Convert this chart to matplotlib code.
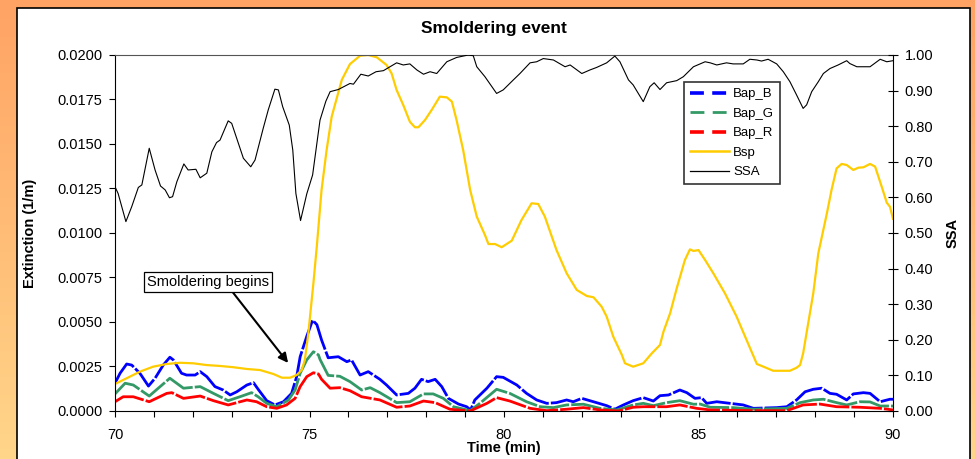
import numpy as np
import matplotlib
matplotlib.use("Agg")
import matplotlib.pyplot as plt
from matplotlib.lines import Line2D
from matplotlib.patches import Rectangle

plt.rcParams['font.family'] = ['Liberation Sans', 'DejaVu Sans']
plt.rcParams['lines.scale_dashes'] = False

# ---- data ----
ssa_t = [70.00, 70.08, 70.28, 70.43, 70.60, 70.69, 70.88, 71.03, 71.17, 71.29, 71.40, 71.48,
         71.59, 71.77, 71.88, 72.08, 72.19, 72.36, 72.49, 72.61, 72.70, 72.91, 73.00, 73.30,
         73.49, 73.60, 73.81, 73.94, 74.11, 74.20, 74.31, 74.48, 74.57, 74.65, 74.77, 74.93,
         75.08, 75.27, 75.42, 75.53, 75.74, 76.04, 76.13, 76.32, 76.51, 76.71, 76.90, 77.24,
         77.41, 77.58, 77.76, 77.93, 78.10, 78.27, 78.53, 78.78, 79.08, 79.21, 79.30, 79.51,
         79.81, 79.98, 80.24, 80.41, 80.67, 80.84, 81.01, 81.27, 81.57, 81.70, 82.00, 82.21,
         82.38, 82.64, 82.85, 82.98, 83.20, 83.32, 83.58, 83.75, 83.86, 84.01, 84.18, 84.44,
         84.61, 84.87, 85.17, 85.30, 85.47, 85.72, 85.89, 86.15, 86.32, 86.50, 86.62, 86.79,
         87.01, 87.18, 87.35, 87.52, 87.69, 87.78, 87.91, 88.08, 88.21, 88.38, 88.59, 88.81,
         88.89, 89.07, 89.41, 89.67, 89.84, 90.00]
ssa = [0.630, 0.611, 0.532, 0.574, 0.628, 0.635, 0.738, 0.677, 0.632, 0.621, 0.599, 0.602,
       0.644, 0.694, 0.677, 0.679, 0.655, 0.668, 0.728, 0.754, 0.761, 0.815, 0.808, 0.710,
       0.686, 0.705, 0.794, 0.846, 0.904, 0.902, 0.855, 0.803, 0.733, 0.611, 0.535, 0.610,
       0.663, 0.817, 0.870, 0.897, 0.903, 0.920, 0.918, 0.946, 0.941, 0.953, 0.956, 0.978,
       0.972, 0.975, 0.958, 0.946, 0.953, 0.948, 0.981, 0.993, 1.000, 0.998, 0.967, 0.939,
       0.892, 0.902, 0.930, 0.948, 0.978, 0.981, 0.990, 0.986, 0.967, 0.972, 0.948, 0.958,
       0.965, 0.978, 0.997, 0.981, 0.930, 0.916, 0.869, 0.911, 0.922, 0.903, 0.922, 0.928,
       0.939, 0.967, 0.981, 0.978, 0.972, 0.978, 0.975, 0.975, 0.988, 0.986, 0.983, 0.988,
       0.975, 0.953, 0.925, 0.888, 0.850, 0.860, 0.897, 0.925, 0.948, 0.962, 0.972, 0.984,
       0.976, 0.967, 0.967, 0.988, 0.981, 0.984]

bsp_t = [70.00, 70.30, 70.64, 70.98, 71.33, 71.67, 72.01, 72.36, 72.70, 73.04, 73.39, 73.73,
         74.07, 74.29, 74.50, 74.67, 74.80, 74.88, 74.97, 75.10, 75.19, 75.31, 75.44, 75.57,
         75.70, 75.83, 76.04, 76.30, 76.51, 76.73, 76.98, 77.11, 77.24, 77.41, 77.58, 77.71,
         77.80, 77.97, 78.14, 78.35, 78.53, 78.66, 78.78, 78.95, 79.13, 79.30, 79.51, 79.60,
         79.77, 79.94, 80.20, 80.45, 80.71, 80.88, 81.05, 81.35, 81.61, 81.87, 82.13, 82.30,
         82.51, 82.64, 82.81, 83.03, 83.11, 83.32, 83.58, 83.80, 84.01, 84.10, 84.27, 84.44,
         84.65, 84.78, 84.87, 85.00, 85.17, 85.38, 85.68, 85.98, 86.20, 86.50, 86.67, 86.92,
         87.35, 87.52, 87.61, 87.69, 87.82, 87.95, 88.08, 88.30, 88.42, 88.55, 88.68, 88.81,
         88.98, 89.11, 89.24, 89.41, 89.54, 89.71, 89.84, 89.92, 90.00]
bsp = [0.00152, 0.00184, 0.00221, 0.00249, 0.00264, 0.00271, 0.00268, 0.00258, 0.00253, 0.00246,
       0.00236, 0.00230, 0.00208, 0.00187, 0.00187, 0.00202, 0.00230, 0.00287, 0.00437, 0.00717,
       0.00930, 0.01242, 0.01466, 0.01653, 0.01757, 0.01860, 0.01949, 0.01996, 0.02000, 0.01987,
       0.01944, 0.01897, 0.01803, 0.01719, 0.01625, 0.01594, 0.01594, 0.01635, 0.01691, 0.01766,
       0.01762, 0.01738, 0.01635, 0.01466, 0.01242, 0.01092, 0.00989, 0.00938, 0.00938, 0.00920,
       0.00957, 0.01073, 0.01167, 0.01163, 0.01092, 0.00904, 0.00774, 0.00680, 0.00646, 0.00639,
       0.00586, 0.00530, 0.00417, 0.00315, 0.00268, 0.00249, 0.00268, 0.00324, 0.00371, 0.00446,
       0.00549, 0.00689, 0.00848, 0.00908, 0.00899, 0.00904, 0.00848, 0.00774, 0.00661, 0.00530,
       0.00417, 0.00264, 0.00249, 0.00226, 0.00226, 0.00243, 0.00258, 0.00324, 0.00493, 0.00661,
       0.00886, 0.01110, 0.01242, 0.01363, 0.01388, 0.01382, 0.01354, 0.01367, 0.01369, 0.01388,
       0.01373, 0.01260, 0.01170, 0.01148, 0.01080]

bapb_t = [70.00, 70.13, 70.30, 70.43, 70.64, 70.86, 71.03, 71.24, 71.41, 71.50, 71.71, 71.84,
          72.06, 72.19, 72.36, 72.57, 72.78, 72.96, 73.13, 73.39, 73.56, 73.68, 73.90, 74.11,
          74.33, 74.54, 74.67, 74.76, 74.93, 75.08, 75.19, 75.31, 75.48, 75.74, 75.96, 76.08,
          76.30, 76.51, 76.81, 76.98, 77.24, 77.54, 77.71, 77.88, 78.05, 78.23, 78.40, 78.57,
          78.83, 79.04, 79.14, 79.25, 79.56, 79.81, 79.98, 80.33, 80.58, 80.84, 81.10, 81.35,
          81.61, 81.78, 82.00, 82.30, 82.64, 82.85, 83.07, 83.32, 83.58, 83.84, 84.01, 84.23,
          84.52, 84.70, 84.91, 85.08, 85.21, 85.47, 85.81, 86.15, 86.41, 87.01, 87.27, 87.52,
          87.74, 87.95, 88.17, 88.38, 88.55, 88.81, 88.98, 89.24, 89.41, 89.67, 89.92, 90.00]
bapb = [0.00156, 0.00212, 0.00264, 0.00258, 0.00212, 0.00140, 0.00184, 0.00258, 0.00302, 0.00287,
        0.00212, 0.00202, 0.00202, 0.00221, 0.00193, 0.00137, 0.00118, 0.00090, 0.00108, 0.00146,
        0.00159, 0.00122, 0.00058, 0.00034, 0.00052, 0.00099, 0.00193, 0.00305, 0.00420, 0.00510,
        0.00485, 0.00399, 0.00299, 0.00305, 0.00277, 0.00287, 0.00202, 0.00221, 0.00178, 0.00146,
        0.00090, 0.00099, 0.00128, 0.00178, 0.00165, 0.00178, 0.00137, 0.00071, 0.00039, 0.00024,
        0.00006, 0.00062, 0.00128, 0.00193, 0.00189, 0.00146, 0.00099, 0.00062, 0.00043, 0.00047,
        0.00062, 0.00052, 0.00071, 0.00052, 0.00030, 0.00010, 0.00034, 0.00058, 0.00075, 0.00056,
        0.00086, 0.00090, 0.00118, 0.00103, 0.00071, 0.00075, 0.00043, 0.00052, 0.00043, 0.00034,
        0.00015, 0.00019, 0.00024, 0.00062, 0.00108, 0.00122, 0.00128, 0.00099, 0.00094, 0.00062,
        0.00096, 0.00103, 0.00099, 0.00052, 0.00066, 0.00066]

bapg_t = [70.00, 70.26, 70.47, 70.88, 71.16, 71.41, 71.76, 72.19, 72.53, 72.91, 73.21, 73.51,
          73.68, 73.90, 74.16, 74.46, 74.63, 74.76, 74.93, 75.10, 75.23, 75.27, 75.48, 75.78,
          76.04, 76.34, 76.56, 76.81, 77.24, 77.58, 77.93, 78.18, 78.44, 78.70, 79.13, 79.38,
          79.81, 80.15, 80.58, 80.93, 81.27, 81.61, 82.04, 82.47, 82.90, 83.32, 83.58, 83.84,
          84.18, 84.52, 84.87, 85.04, 85.30, 85.89, 86.41, 87.27, 87.61, 87.95, 88.21, 88.55,
          88.81, 89.15, 89.41, 89.67, 90.00]
bapg = [0.00096, 0.00156, 0.00146, 0.00084, 0.00137, 0.00184, 0.00128, 0.00137, 0.00099, 0.00058,
        0.00080, 0.00103, 0.00080, 0.00043, 0.00024, 0.00062, 0.00118, 0.00212, 0.00287, 0.00333,
        0.00315, 0.00290, 0.00200, 0.00195, 0.00165, 0.00118, 0.00131, 0.00103, 0.00047, 0.00052,
        0.00096, 0.00096, 0.00071, 0.00024, 0.00002, 0.00043, 0.00122, 0.00099, 0.00052, 0.00024,
        0.00019, 0.00034, 0.00038, 0.00015, 0.00006, 0.00034, 0.00043, 0.00030, 0.00047, 0.00058,
        0.00038, 0.00039, 0.00021, 0.00019, 0.00010, 0.00015, 0.00047, 0.00062, 0.00066, 0.00047,
        0.00034, 0.00052, 0.00051, 0.00028, 0.00028]

bapr_t = [70.00, 70.21, 70.47, 70.88, 71.33, 71.46, 71.76, 72.19, 72.53, 72.91, 73.39, 73.64,
          73.90, 74.16, 74.41, 74.63, 74.76, 74.93, 75.10, 75.23, 75.31, 75.53, 75.78, 76.04,
          76.34, 76.81, 77.24, 77.58, 77.93, 78.23, 78.61, 79.13, 79.56, 79.81, 80.15, 80.67,
          81.10, 81.61, 82.04, 82.47, 82.94, 83.32, 83.58, 84.18, 84.52, 84.95, 85.30, 86.41,
          87.27, 87.69, 88.12, 88.55, 89.15, 89.67, 90.00]
bapr = [0.00052, 0.00080, 0.00080, 0.00052, 0.00099, 0.00103, 0.00071, 0.00084, 0.00058, 0.00034,
        0.00062, 0.00052, 0.00024, 0.00015, 0.00034, 0.00071, 0.00137, 0.00193, 0.00215, 0.00208,
        0.00178, 0.00128, 0.00131, 0.00114, 0.00080, 0.00062, 0.00021, 0.00028, 0.00056, 0.00047,
        0.00010, 0.00000, 0.00043, 0.00075, 0.00056, 0.00015, 0.00002, 0.00010, 0.00019, 0.00006,
        0.00000, 0.00021, 0.00024, 0.00024, 0.00034, 0.00015, 0.00006, 0.00002, 0.00002, 0.00034,
        0.00039, 0.00024, 0.00021, 0.00015, 0.00006]

# ---- figure with orange gradient frame ----
fig = plt.figure(figsize=(9.75, 4.59), dpi=100)
bg = fig.add_axes([0, 0, 1, 1], zorder=-3)
top_c = np.array([255, 163, 100]) / 255.0
bot_c = np.array([255, 214, 138]) / 255.0
g = np.linspace(0, 1, 256)[:, None]
grad = (top_c[None, :] * (1 - g) + bot_c[None, :] * g)[:, None, :]
bg.imshow(grad, aspect='auto', extent=[0, 1, 0, 1])
bg.set_axis_off()
fig.patches.append(Rectangle((0.0174, -0.02), 0.9775, 1.0026, transform=fig.transFigure,
                             facecolor='white', edgecolor='black', lw=1.2, zorder=-2))

# title centred on the white panel, not the plot area
fig.text(0.5063, 0.938, 'Smoldering event', fontsize=12.5, fontweight='bold',
         ha='center', va='center')

ax = fig.add_axes([0.11795, 0.10458, 0.79795, 0.77560])
ax.set_facecolor('none')
ax.plot(bapb_t, bapb, color='#0000FF', lw=2.0, dashes=(22, 1.5))
ax.plot(bapg_t, bapg, color='#339966', lw=2.0, dashes=(22, 1.5))
ax.plot(bapr_t, bapr, color='#FF0000', lw=2.0, dashes=(22, 1.5))
ax.plot(bsp_t, bsp, color='#FFCC00', lw=1.6)

ax.set_xlim(70, 90)
ax.set_ylim(0, 0.02)
ax.set_xticks([70, 75, 80, 85, 90])
ax.set_xticks(np.arange(70, 91, 1), minor=True)
ax.set_yticks(np.arange(0, 0.02001, 0.0025))
ax.yaxis.set_major_formatter(plt.FuncFormatter(lambda v, p: f"{v:.4f}"))
ax.tick_params(axis='x', which='both', direction='out', length=4, width=0.8, labelsize=10.5, pad=8)
ax.tick_params(axis='y', direction='out', length=4, width=0.8, labelsize=10.5, pad=5)
for s in ['left', 'bottom']:
    ax.spines[s].set_color('black')
ax.spines['top'].set_color('#555555')
ax.spines['right'].set_visible(False)

ax.set_xlabel('Time (min)', fontsize=10.5, fontweight='bold')
ax.xaxis.set_label_coords(0.5, -0.083)
ax.set_ylabel('Extinction (1/m)', fontsize=10.5, fontweight='bold')
ax.yaxis.set_label_coords(-0.100, 0.5)

ax2 = ax.twinx()
ax2.plot(ssa_t, ssa, color='black', lw=0.8)
ax2.set_ylim(0, 1.0)
ax2.set_yticks(np.arange(0, 1.001, 0.1))
ax2.yaxis.set_major_formatter(plt.FuncFormatter(lambda v, p: f"{v:.2f}"))
ax2.tick_params(axis='y', direction='inout', length=7, width=0.8, labelsize=10.5, pad=5)
ax2.spines['right'].set_color('black')
for s in ['left', 'top', 'bottom']:
    ax2.spines[s].set_visible(False)
ax2.set_ylabel('SSA', fontsize=10.5, fontweight='bold')
ax2.yaxis.set_label_coords(1.067, 0.5)

handles = [
    Line2D([], [], color='#0000FF', lw=2.6, dashes=(10, 6)),
    Line2D([], [], color='#339966', lw=2.0, dashes=(10, 6)),
    Line2D([], [], color='#FF0000', lw=2.6, dashes=(10, 6)),
    Line2D([], [], color='#FFCC00', lw=1.8),
    Line2D([], [], color='black', lw=0.9),
]
leg = ax2.legend(handles, ['Bap_B', 'Bap_G', 'Bap_R', 'Bsp', 'SSA'], loc='upper left',
                 bbox_to_anchor=(0.731, 0.924), borderaxespad=0, fontsize=9.5,
                 handlelength=3.0, handletextpad=0.3, labelspacing=0.55,
                 fancybox=False, framealpha=1, edgecolor='#333333', borderpad=0.45)
leg.get_frame().set_linewidth(1.2)

ax2.annotate('Smoldering begins', xy=(74.45, 0.135), xytext=(72.40, 0.362),
             fontsize=10.5, ha='center', va='center',
             bbox=dict(boxstyle='square,pad=0.2', fc='white', ec='black', lw=0.9),
             arrowprops=dict(arrowstyle='-|>', color='black', lw=1.5, mutation_scale=14,
                             relpos=(0.68, 0.0), shrinkA=0, shrinkB=0))

fig.savefig('out.png', dpi=100)
